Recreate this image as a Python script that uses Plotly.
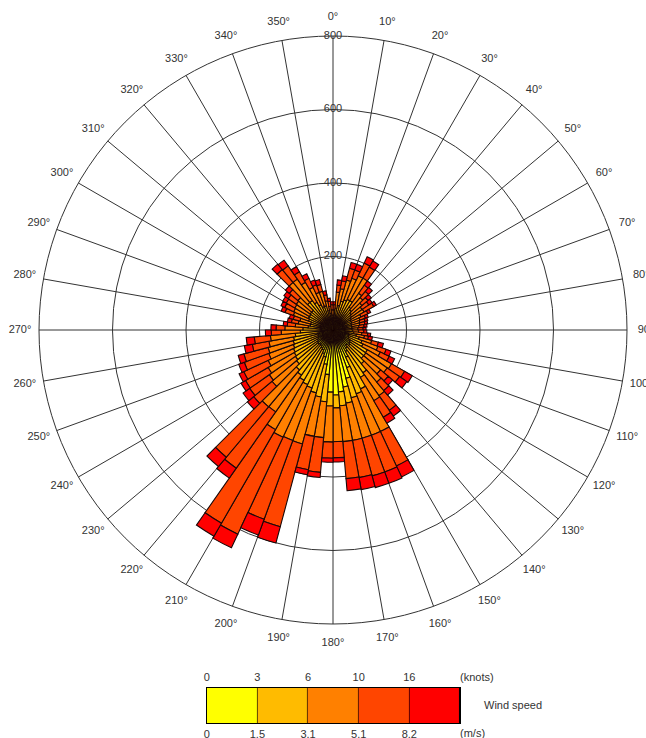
import plotly.graph_objects as go

# 5-degree direction bins (bin centres)
directions = [2.5 + 5 * i for i in range(72)]

# Frequency per speed class and direction (counts)
speed_0_1_5 = [27, 27, 27, 27, 27, 27, 27, 27, 27, 27, 27, 27,
               30, 30, 30, 33, 33, 33,
               35, 38, 41, 44, 46, 49, 54, 57, 60, 54, 60, 68,
               82, 109, 136, 158, 169, 177, 169, 122, 95, 76, 68, 60, 57, 54, 52,
               54, 52, 49, 46, 44, 41, 41, 38, 35,
               33, 33, 30, 30,
               30, 30, 30, 30, 30, 30, 30,
               27, 27, 27, 27, 27, 27, 27]
speed_1_5_3_1 = [14, 33, 41, 54, 60, 65, 65, 49, 44, 38, 35, 30,
                 24, 24, 22, 19, 19, 19,
                 19, 19, 24, 30, 38, 41, 54, 52, 49, 66, 82, 81,
                 95, 76, 55, 44, 38, 35, 38, 74, 90, 101, 100, 104, 101, 96, 90,
                 76, 73, 73, 73, 71, 71, 68, 65, 54,
                 49, 35, 33, 33,
                 41, 44, 44, 46, 46, 68, 68,
                 60, 49, 41, 41, 27, 19, 14]
speed_3_1_5_1 = [14, 44, 46, 60, 63, 71, 71, 46, 44, 38, 35, 41,
                 30, 24, 24, 22, 19, 16,
                 16, 22, 22, 35, 46, 52, 76, 71, 60, 65, 76, 73,
                 128, 120, 114, 103, 98, 92, 98, 98, 109, 144, 152, 158, 155, 122, 131,
                 87, 87, 82, 76, 71, 71, 68, 68, 52,
                 49, 35, 33, 30,
                 44, 44, 46, 46, 49, 71, 71,
                 63, 52, 41, 41, 27, 19, 14]
speed_5_1_8_2 = [14, 19, 22, 33, 24, 38, 35, 27, 22, 22, 22, 30,
                 21, 16, 14, 14, 14, 14,
                 14, 16, 11, 19, 24, 27, 41, 41, 27, 30, 49, 52,
                 103, 106, 106, 103, 101, 44, 44, 95, 92, 233, 228, 291, 294, 187, 179,
                 65, 65, 71, 73, 71, 68, 46, 44, 27,
                 24, 22, 19, 19,
                 24, 27, 27, 27, 30, 46, 44,
                 33, 27, 22, 19, 16, 14, 14]
speed_8_2_plus = [8, 14, 14, 16, 16, 19, 19, 14, 14, 11, 11, 8,
                  8, 8, 8, 8, 8, 8,
                  8, 8, 11, 14, 14, 16, 24, 24, 16, 16, 19, 19,
                  33, 33, 33, 33, 33, 11, 11, 14, 14, 46, 46, 41, 41, 33, 33,
                  22, 22, 14, 14, 16, 16, 22, 22, 16,
                  14, 11, 11, 11,
                  11, 11, 11, 14, 14, 19, 19,
                  16, 14, 14, 14, 11, 8, 8]

series = [speed_0_1_5, speed_1_5_3_1, speed_3_1_5_1, speed_5_1_8_2, speed_8_2_plus]
series_names = ["0-1.5 m/s", "1.5-3.1 m/s", "3.1-5.1 m/s", "5.1-8.2 m/s", ">8.2 m/s"]
colors = ["#FFFF00", "#FFBB00", "#FF8000", "#FF4500", "#FF0000"]

radial_ticks = [200, 400, 600, 800]
radial_labels = ["200", "400", "600", "800"]

angle_ticks = list(range(0, 360, 10))
angle_labels = [f"{a}°" for a in angle_ticks]

legend_classes = [0, 1, 2, 3, 4]
legend_edges = [-0.5, 0.5, 1.5, 2.5, 3.5]
knots_labels = ["0", "3", "6", "10", "16"]
ms_labels = ["0", "1.5", "3.1", "5.1", "8.2"]

FONT = "Liberation Sans, Arial, sans-serif"
TXT = "#333333"
GRID = "#333333"

fig = go.Figure()

for vals, name, col in zip(series, series_names, colors):
    fig.add_trace(go.Barpolar(
        r=vals, theta=directions, width=5, name=name,
        marker=dict(color=col, line=dict(color="#1a0808", width=1.1)),
        showlegend=False, hoverinfo="skip"))

fig.add_trace(go.Scatterpolar(
    r=radial_ticks, theta=[0] * len(radial_ticks), mode="text",
    text=radial_labels, textposition="middle center",
    textfont=dict(family=FONT, size=11, color=TXT),
    cliponaxis=False, showlegend=False, hoverinfo="skip"))

# direction labels on an outer, invisible polar frame
fig.add_trace(go.Scatterpolar(
    r=[1] * len(angle_ticks), theta=angle_ticks, mode="text",
    text=angle_labels, textposition="middle center",
    textfont=dict(family=FONT, size=11, color=TXT), subplot="polar2",
    cliponaxis=False, showlegend=False, hoverinfo="skip"))

# colour-scale legend built as a heatmap
n = len(colors)
cs = []
for i, c in enumerate(colors):
    cs.append([i / n, c])
    cs.append([(i + 1) / n, c])

for xa in ["x", "x2"]:
    fig.add_trace(go.Heatmap(
        z=[legend_classes], x=legend_classes, y=[0],
        colorscale=cs, zmin=-0.5, zmax=4.5, showscale=False,
        xgap=1, xaxis=xa, yaxis="y", hoverinfo="skip"))

W, H = 646, 738
cx, cy, R = 333, 330, 294
RL = 313  # label circle radius (px)

fig.update_layout(
    width=W, height=H,
    margin=dict(l=0, r=0, t=0, b=0, autoexpand=False),
    paper_bgcolor="white", plot_bgcolor="black",
    font=dict(family=FONT, size=11, color=TXT),
    polar=dict(
        domain=dict(x=[(cx - R) / W, (cx + R) / W],
                    y=[1 - (cy + R) / H, 1 - (cy - R) / H]),
        bgcolor="white", bargap=0,
        angularaxis=dict(rotation=90, direction="clockwise",
                         tickmode="linear", tick0=0, dtick=10,
                         showgrid=True, gridcolor=GRID, gridwidth=1,
                         showline=True, linecolor=GRID, linewidth=1,
                         ticks="", showticklabels=False,
                         layer="above traces"),
        radialaxis=dict(range=[0, 800], tickvals=radial_ticks,
                        showticklabels=False, ticks="", showline=False,
                        showgrid=True, gridcolor=GRID, gridwidth=1,
                        layer="above traces"),
    ),
    polar2=dict(
        domain=dict(x=[(cx - RL) / W, min(1.0, (cx + RL) / W)],
                    y=[1 - (cy + RL) / H, 1 - (cy - RL) / H]),
        bgcolor="rgba(0,0,0,0)",
        angularaxis=dict(rotation=90, direction="clockwise",
                         showgrid=False, showline=False, ticks="",
                         showticklabels=False),
        radialaxis=dict(range=[0, 1], visible=False, showgrid=False,
                        showline=False, showticklabels=False, ticks=""),
    ),
    xaxis=dict(domain=[206.7 / W, 460 / W], range=[-0.5, 4.5],
               tickmode="array", tickvals=legend_edges, ticktext=ms_labels,
               showgrid=False, zeroline=False, showline=True, mirror=True,
               linecolor="black", linewidth=1, ticks="outside", ticklen=1,
               tickcolor="rgba(0,0,0,0)", tickfont=dict(size=11, color=TXT),
               automargin=False, fixedrange=True),
    xaxis2=dict(overlaying="x", side="top", anchor="y", range=[-0.5, 4.5],
                tickmode="array", tickvals=legend_edges, ticktext=knots_labels,
                showgrid=False, zeroline=False, showline=False,
                ticks="outside", ticklen=2, tickcolor="rgba(0,0,0,0)",
                tickfont=dict(size=11, color=TXT), automargin=False,
                fixedrange=True),
    yaxis=dict(domain=[1 - 723 / H, 1 - 688 / H], range=[-0.5, 0.5],
               showticklabels=False, showgrid=False, zeroline=False,
               showline=True, mirror=True, linecolor="black", linewidth=1,
               automargin=False, fixedrange=True),
    annotations=[
        dict(text="(knots)", x=477 / W, y=1 - 677 / H, xref="paper", yref="paper",
             xanchor="center", yanchor="middle",
             showarrow=False, font=dict(size=11, color=TXT)),
        dict(text="(m/s)", x=472 / W, y=1 - 733 / H, xref="paper", yref="paper",
             xanchor="center", yanchor="middle",
             showarrow=False, font=dict(size=11, color=TXT)),
        dict(text="Wind speed", x=513 / W, y=1 - 705 / H, xref="paper", yref="paper",
             xanchor="center", yanchor="middle",
             showarrow=False, font=dict(size=11, color=TXT)),
    ],
)

fig.write_html("out.html", config={"displayModeBar": False},
               post_script="document.body.style.margin='0';")
